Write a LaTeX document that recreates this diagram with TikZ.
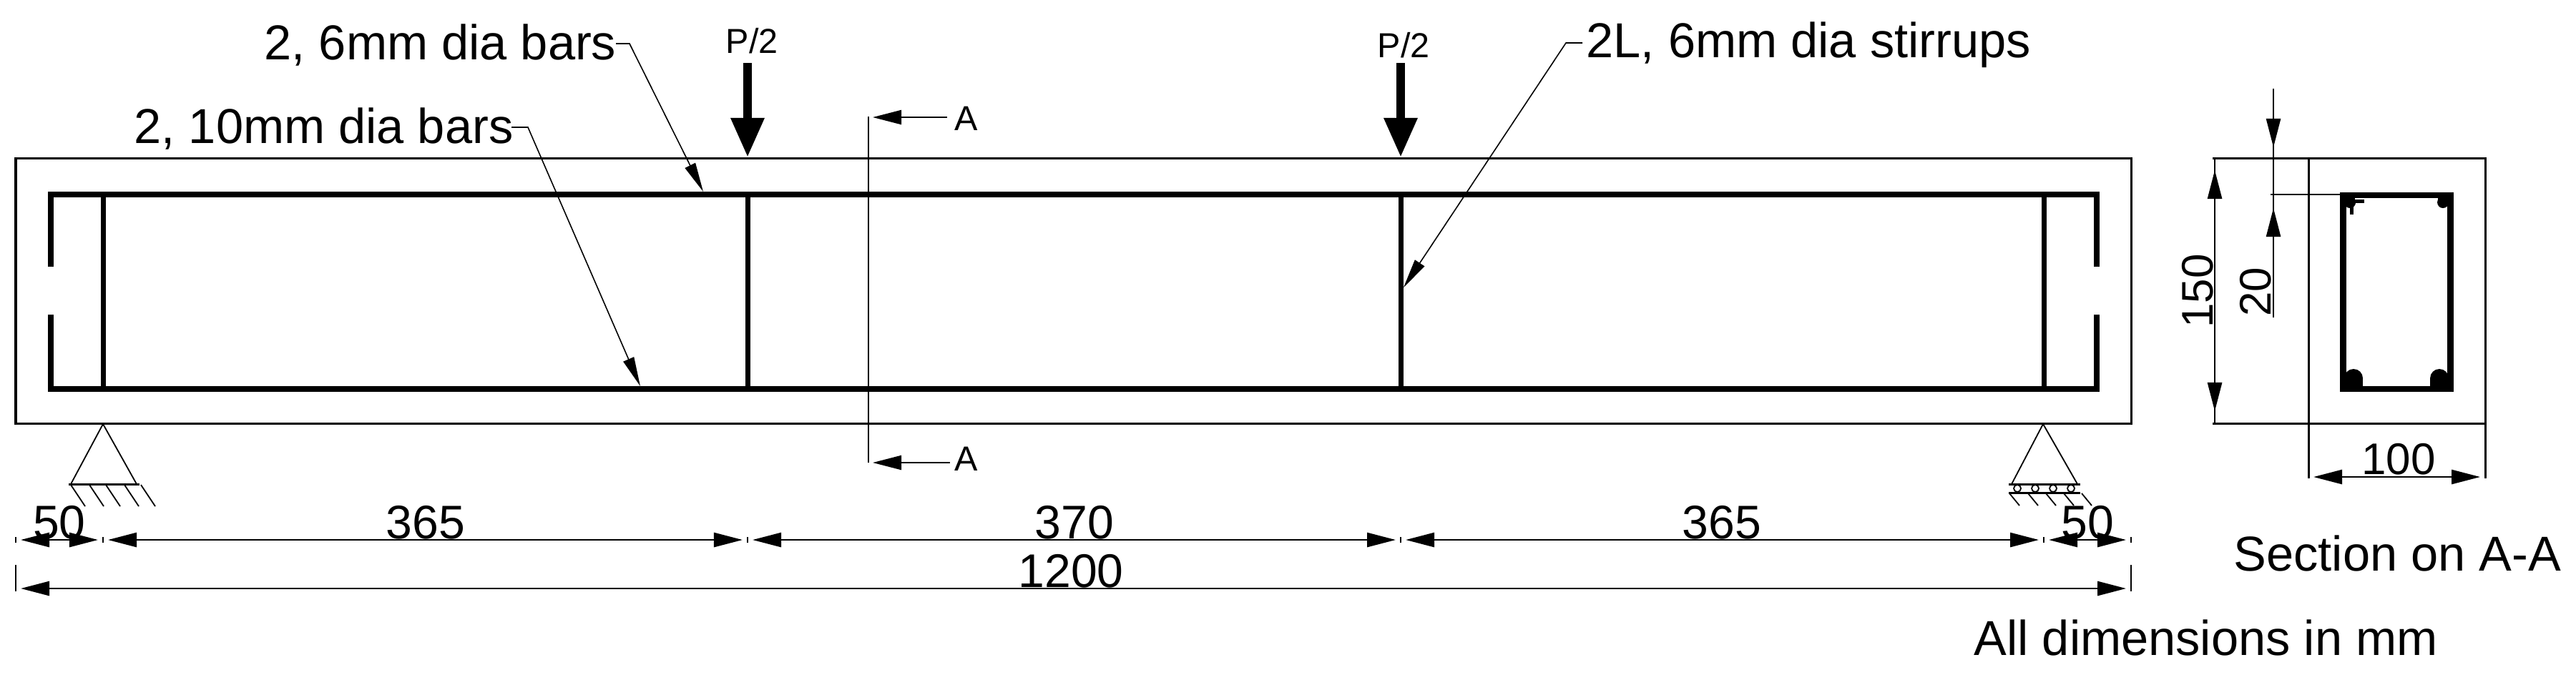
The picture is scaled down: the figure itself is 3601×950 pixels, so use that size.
\documentclass[tikz,border=0pt]{standalone}
\usepackage{fontspec}
\setmainfont{Liberation Sans}
\usetikzlibrary{arrows.meta}
\tikzset{
	lbl/.style={inner sep=0pt,anchor=base west,font=\fontsize{19.5pt}{19.5pt}\selectfont},
	lblsmall/.style={inner sep=0pt,anchor=base west,font=\fontsize{13.8pt}{13.8pt}\selectfont},
	dimtext/.style={inner sep=0pt,anchor=base,font=\fontsize{18.8pt}{18.8pt}\selectfont},
	dimtextsec/.style={inner sep=0pt,anchor=base,font=\fontsize{17.6pt}{17.6pt}\selectfont},
	dimtip/.tip={Triangle[length=0.4cm,width=0.2cm]},
	outline/.style={line width=0.03cm},
	bar/.style={line width=0.085cm,line join=miter},
	stirrup/.style={line width=0.07cm},
	thinline/.style={line width=0.018cm},
	dimline/.style={line width=0.027cm,{dimtip}-{dimtip},shorten <=0.07cm,shorten >=0.07cm},
	leader/.style={line width=0.016cm,-{Triangle[length=0.41cm,width=0.16cm]}},
	cutarrow/.style={line width=0.022cm,-{dimtip}},
	coverline/.style={line width=0.025cm},
	coverarrow/.style={line width=0.025cm,-{dimtip}},
	loadarrow/.style={line width=0.12cm,-{Triangle[length=0.55cm,width=0.44cm]}},
}
\begin{document}
\begin{tikzpicture}[x=0.01cm,y=-0.01cm]
	\useasboundingbox (0,0) rectangle (3601,950);
	
	% Beam outline
	\draw[outline] (22,221) rectangle (2979,592);
	
	% Main bars with end hooks
	\draw[bar] (71,373) -- (71,272) -- (2931,272) -- (2931,373);
	\draw[bar] (71,440) -- (71,544) -- (2931,544) -- (2931,440);
	
	% Stirrups
	\foreach \x in {144,1045,1958,2857}
		\draw[stirrup] (\x,272) -- (\x,544);
	
	% Loads
	\node[lblsmall] (loadL) at (1014,74) {P/2};
	\node[lblsmall] (loadR) at (1925,80) {P/2};
	\coordinate (loadLtop) at (1045,88);
	\coordinate (loadLend) at (1045,220);
	\coordinate (loadRtop) at (1958,88);
	\coordinate (loadRend) at (1958,220);
	\draw[loadarrow] (loadLtop) -- (loadLend);
	\draw[loadarrow] (loadRtop) -- (loadRend);
	
	% Bar and stirrup labels
	\node[lbl] (topBars) at (369,83) {2, 6mm dia bars};
	\node[lbl] (botBars) at (187,200) {2, 10mm dia bars};
	\node[lbl] (stirrups) at (2217,80) {2L, 6mm dia stirrups};
	\coordinate (topBarsS) at (861,61);
	\coordinate (topBarsK) at (880,61);
	\coordinate (topBarsE) at (983,268);
	\coordinate (botBarsS) at (715,178);
	\coordinate (botBarsK) at (738,178);
	\coordinate (botBarsE) at (895,540);
	\coordinate (stirrupsS) at (2212,60);
	\coordinate (stirrupsK) at (2189,60);
	\coordinate (stirrupsE) at (1962,402);
	\draw[leader] (topBarsS) -- (topBarsK) -- (topBarsE);
	\draw[leader] (botBarsS) -- (botBarsK) -- (botBarsE);
	\draw[leader] (stirrupsS) -- (stirrupsK) -- (stirrupsE);
	
	% Section line A-A
	\draw[line width=0.02cm] (1214,163) -- (1214,647);
	\node[lblsmall] (cutA) at (1334,182) {A};
	\node[lblsmall] (cutB) at (1334,658) {A};
	\coordinate (cutAs) at (1324,164);
	\coordinate (cutAe) at (1220,164);
	\coordinate (cutBs) at (1328,647);
	\coordinate (cutBe) at (1220,647);
	\draw[cutarrow] (cutAs) -- (cutAe);
	\draw[cutarrow] (cutBs) -- (cutBe);
	
	% Hinge support
	\draw[thinline] (99,677) -- (144,593) -- (191,677);
	\draw[outline] (96,677) -- (195,677);
	\foreach \x in {99,125,148,174,197}
		\draw[thinline] (\x,678) -- ++(20,30);
	
	% Roller support
	\draw[thinline] (2812,677) -- (2856,593) -- (2904,677);
	\draw[outline] (2808,677) -- (2908,677);
	\draw[outline] (2808,689) -- (2908,689);
	\foreach \x in {2820,2845,2870,2895}
		\draw[thinline] (\x,683) circle (5);
	\foreach \x in {2809,2835,2860,2885,2910}
		\draw[thinline] (\x,690) -- ++(14,17);
	
	% Span dimensions
	\coordinate (d0) at (22,755);
	\coordinate (d1) at (144,755);
	\coordinate (d2) at (1045,755);
	\coordinate (d3) at (1958,755);
	\coordinate (d4) at (2857,755);
	\coordinate (d5) at (2979,755);
	\foreach \n in {d0,d1,d2,d3,d4,d5}
		\draw[thinline] (\n) ++(0,-4) -- ++(0,8);
	\foreach \a/\b in {d0/d1,d1/d2,d2/d3,d3/d4,d4/d5}
		\draw[dimline] (\a) -- (\b);
	\node[dimtext] (dimA) at (83,753) {50};
	\node[dimtext] (dimB) at (595,753) {365};
	\node[dimtext] (dimC) at (1502,753) {370};
	\node[dimtext] (dimD) at (2407,753) {365};
	\node[dimtext] (dimE) at (2918,753) {50};
	
	% Overall length
	\coordinate (tot0) at (22,823);
	\coordinate (tot1) at (2979,823);
	\draw[thinline] (22,790) -- (22,827);
	\draw[thinline] (2979,790) -- (2979,827);
	\draw[dimline] (tot0) -- (tot1);
	\node[dimtext] (dimTot) at (1497,821) {1200};
	
	% Cross section
	\draw[outline] (3227,221) rectangle (3474,592);
	\draw[bar] (3275.5,273) rectangle (3425.5,544);
	\fill (3290,529) circle (13);
	\fill (3410,529) circle (13);
	\fill (3277,529) rectangle (3303,542);
	\fill (3397,529) rectangle (3424,542);
	\fill (3285,283) circle (8);
	\fill (3415,283) circle (8);
	\fill (3408,275) rectangle (3424,283);
	\fill (3277,275) rectangle (3292,285);
	\draw[line width=0.05cm] (3285,281) -- (3305,281);
	\draw[line width=0.05cm] (3287,281) -- (3287,300);
	
	% Section dimensions
	\draw[outline] (3093,221) -- (3227,221);
	\draw[outline] (3093,592) -- (3227,592);
	\draw[outline] (3227,592) -- (3227,669);
	\draw[outline] (3474,592) -- (3474,669);
	\draw[thinline] (3174,272) -- (3271,272);
	\coordinate (w0) at (3227,667);
	\coordinate (w1) at (3474,667);
	\draw[dimline] (w0) -- (w1);
	\node[dimtextsec] (dimWidth) at (3353,663) {100};
	\coordinate (h0) at (3096,221);
	\coordinate (h1) at (3096,592);
	\draw[coverline] (h0) -- (h1);
	\draw[dimline,shorten <=0.17cm,shorten >=0.17cm] (h0) -- (h1);
	\node[dimtextsec,rotate=90] (dimHeight) at (3093,407) {150};
	\coordinate (c0) at (3178,124);
	\coordinate (c1) at (3178,221);
	\coordinate (c2) at (3178,272);
	\coordinate (c3) at (3178,444);
	\draw[coverline] (c0) -- (c3);
	\draw[coverarrow,shorten >=0.15cm] (c0) -- (c1);
	\draw[coverarrow,shorten >=0.19cm] (c3) -- (c2);
	\node[dimtextsec,rotate=90] (dimCover) at (3174,408) {20};
	
	% Notes
	\node[lbl] (secTitle) at (3122,798) {Section on A-A};
	\node[lbl] (allDims) at (2759,916) {All dimensions in mm};
	
\end{tikzpicture}
\end{document}
